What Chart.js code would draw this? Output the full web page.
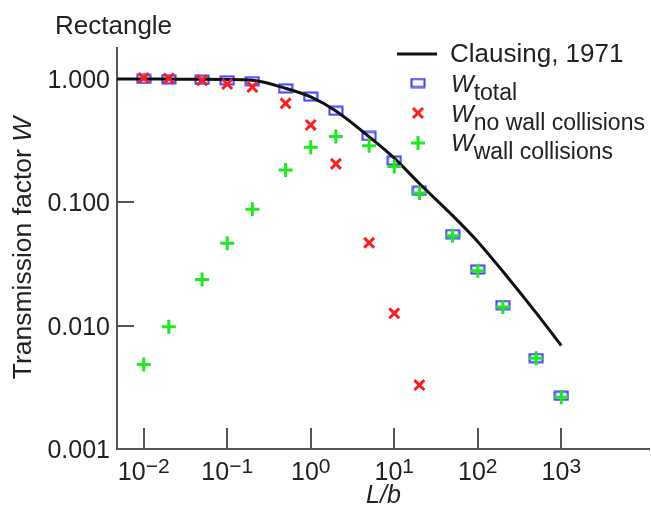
<!DOCTYPE html>
<html>
<head>
<meta charset="utf-8">
<script src="https://cdn.jsdelivr.net/npm/chart.js@4.4.1/dist/chart.umd.min.js"></script>
<style>
  html, body { margin: 0; padding: 0; background: #fff; }
  #wrap { width: 651px; height: 514px; }
</style>
</head>
<body>
<div id="wrap"><canvas id="chart" width="651" height="514"></canvas></div>
<script>
// ================= DATA =================
const lengthRatios = [0.01, 0.02, 0.05, 0.1, 0.2, 0.5, 1, 2, 5, 10, 20, 50, 100, 200, 500, 1000];
const wTotal = [1.0, 0.995, 0.985, 0.975, 0.96, 0.84, 0.72, 0.553, 0.345, 0.218, 0.124, 0.0553, 0.0286, 0.0147, 0.00546, 0.0027];
const wWallCollisions = [0.00485, 0.0098, 0.0237, 0.0465, 0.0877, 0.183, 0.28, 0.342, 0.287, 0.195, 0.119, 0.0535, 0.0279, 0.0142, 0.00543, 0.00263];

const noWallRatios = [0.01, 0.02, 0.05, 0.1, 0.2, 0.5, 1, 2, 5, 10, 20];
const wNoWallCollisions = [1.02, 1.01, 0.975, 0.91, 0.86, 0.635, 0.424, 0.205, 0.047, 0.0126, 0.0033];

const clausingRatios = [0.0048, 0.01, 0.02, 0.05, 0.1, 0.2, 0.5, 1, 2, 5, 10, 20, 50, 100, 200, 500, 1000];
const clausingW = [1.0, 1.0, 0.998, 0.995, 0.99, 0.975, 0.84, 0.715, 0.55, 0.34, 0.228, 0.142, 0.078, 0.048, 0.0275, 0.0127, 0.0069];

const xTickValues = [0.01, 0.1, 1, 10, 100, 1000];
const xTickExponents = ["\u22122", "\u22121", "0", "1", "2", "3"];
const yTickValues = [1, 0.1, 0.01, 0.001];
const yTickLabels = ["1.000", "0.100", "0.010", "0.001"];

// ================= STYLE =================
const FONT = '"Liberation Sans", Arial, sans-serif';
const AXIS_COLOR = "#555";
const BLUE = "#3d3dff";
const RED = "#ff1c1c";
const GREEN = "#1ee81e";

// hollow flat rectangle marker for W_total
function makeRectMarker() {
  const c = document.createElement("canvas");
  c.width = 16;
  c.height = 11;
  const g = c.getContext("2d");
  g.strokeStyle = BLUE;
  g.lineWidth = 2;
  g.strokeRect(1.5, 1.5, 13, 8);
  return c;
}
const rectMarker = makeRectMarker();

function toPoints(xs, ys) {
  return xs.map((x, i) => ({ x, y: ys[i] }));
}

// text with a subscript
function drawSub(ctx, x, y, main, sub, size) {
  ctx.font = `italic ${size}px ${FONT}`;
  ctx.fillText(main, x, y);
  const w = ctx.measureText(main).width;
  ctx.font = `${size - 1}px ${FONT}`;
  ctx.fillText(sub, x + w, y + 8);
}

// ================= AXES PLUGIN =================
const axesPlugin = {
  id: "axesPlugin",
  beforeDatasetsDraw(chart) {
    const { ctx, chartArea: a, scales: { x, y } } = chart;
    ctx.save();
    ctx.strokeStyle = AXIS_COLOR;
    ctx.lineWidth = 2;
    ctx.beginPath();
    ctx.moveTo(a.left, a.top);
    ctx.lineTo(a.left, a.bottom);
    ctx.lineTo(a.right, a.bottom);
    xTickValues.forEach(v => {
      const px = Math.round(x.getPixelForValue(v));
      ctx.moveTo(px, a.bottom);
      ctx.lineTo(px, a.bottom - 21);
    });
    yTickValues.forEach(v => {
      const py = Math.round(y.getPixelForValue(v));
      ctx.moveTo(a.left, py);
      ctx.lineTo(a.left + 17, py);
    });
    ctx.stroke();

    ctx.fillStyle = "#222";
    ctx.textBaseline = "alphabetic";

    // y tick labels
    ctx.font = `25px ${FONT}`;
    ctx.textAlign = "right";
    yTickValues.forEach((v, i) => {
      const py = y.getPixelForValue(v);
      ctx.fillText(yTickLabels[i], a.left - 7, py + 9);
    });

    // x tick labels, 10 with superscript exponent
    ctx.textAlign = "left";
    xTickValues.forEach((v, i) => {
      const px = x.getPixelForValue(v);
      ctx.font = `25px ${FONT}`;
      const wBase = ctx.measureText("10").width;
      ctx.font = `21px ${FONT}`;
      const wExp = ctx.measureText(xTickExponents[i]).width;
      const left = px - (wBase + wExp) / 2;
      ctx.font = `25px ${FONT}`;
      ctx.fillText("10", left, a.bottom + 31);
      ctx.font = `21px ${FONT}`;
      ctx.fillText(xTickExponents[i], left + wBase, a.bottom + 24);
    });

    // axis titles
    ctx.font = `italic 25px ${FONT}`;
    ctx.textAlign = "center";
    ctx.fillText("L/b", (a.left + a.right) / 2, a.bottom + 54);

    ctx.save();
    ctx.translate(31, (a.top + a.bottom) / 2);
    ctx.rotate(-Math.PI / 2);
    ctx.textAlign = "left";
    ctx.font = `26.5px ${FONT}`;
    const t1 = "Transmission factor ";
    const w1 = ctx.measureText(t1).width;
    ctx.font = `italic 26.5px ${FONT}`;
    const w2 = ctx.measureText("W").width;
    const start = -(w1 + w2) / 2;
    ctx.font = `26.5px ${FONT}`;
    ctx.fillText(t1, start, 0);
    ctx.font = `italic 26.5px ${FONT}`;
    ctx.fillText("W", start + w1, 0);
    ctx.restore();

    // panel title
    ctx.font = `26px ${FONT}`;
    ctx.textAlign = "left";
    ctx.fillText("Rectangle", 55, 34);
    ctx.restore();
  },
  afterDraw(chart) {
    const { ctx } = chart;
    ctx.save();
    ctx.fillStyle = "#222";
    ctx.textAlign = "left";
    ctx.textBaseline = "alphabetic";

    // Clausing line sample
    ctx.strokeStyle = "#111";
    ctx.lineWidth = 3;
    ctx.beginPath();
    ctx.moveTo(397, 54);
    ctx.lineTo(437, 54);
    ctx.stroke();
    ctx.font = `26px ${FONT}`;
    ctx.fillText("Clausing, 1971", 450, 62);

    // W_total
    ctx.drawImage(rectMarker, 418 - 8, 83 - 5.5);
    drawSub(ctx, 451, 92, "W", "total", 24);

    // W_no wall collisions
    ctx.strokeStyle = RED;
    ctx.lineWidth = 3;
    ctx.beginPath();
    ctx.moveTo(413, 108); ctx.lineTo(423, 118);
    ctx.moveTo(423, 108); ctx.lineTo(413, 118);
    ctx.stroke();
    drawSub(ctx, 451, 122, "W", "no wall collisions", 24);

    // W_wall collisions
    ctx.strokeStyle = GREEN;
    ctx.beginPath();
    ctx.moveTo(411, 143); ctx.lineTo(425, 143);
    ctx.moveTo(418, 136); ctx.lineTo(418, 150);
    ctx.stroke();
    drawSub(ctx, 451, 151, "W", "wall collisions", 24);
    ctx.restore();
  }
};

// ================= CHART =================
new Chart(document.getElementById("chart"), {
  type: "scatter",
  data: {
    datasets: [
      {
        label: "Clausing, 1971",
        type: "line",
        data: toPoints(clausingRatios, clausingW),
        borderColor: "#111",
        borderWidth: 3,
        pointRadius: 0,
        fill: false,
        cubicInterpolationMode: "monotone",
        order: 2,
      },
      {
        label: "W total",
        data: toPoints(lengthRatios, wTotal),
        pointStyle: rectMarker,
        pointRadius: 6,
        order: 3,
      },
      {
        label: "W no wall collisions",
        data: toPoints(noWallRatios, wNoWallCollisions),
        pointStyle: "crossRot",
        pointRadius: 7,
        borderColor: RED,
        borderWidth: 3,
        order: 1,
      },
      {
        label: "W wall collisions",
        data: toPoints(lengthRatios, wWallCollisions),
        pointStyle: "cross",
        pointRadius: 7,
        borderColor: GREEN,
        borderWidth: 3,
        order: 0,
      },
    ],
  },
  options: {
    responsive: false,
    animation: false,
    devicePixelRatio: 1,
    layout: { autoPadding: false, padding: { left: 117, top: 47, right: 1, bottom: 65 } },
    plugins: {
      legend: { display: false },
      tooltip: { enabled: false },
    },
    scales: {
      x: { type: "logarithmic", min: 0.00479, max: 11530, display: false },
      y: { type: "logarithmic", min: 0.001, max: 1.817, display: false },
    },
  },
  plugins: [axesPlugin],
});
</script>
</body>
</html>
